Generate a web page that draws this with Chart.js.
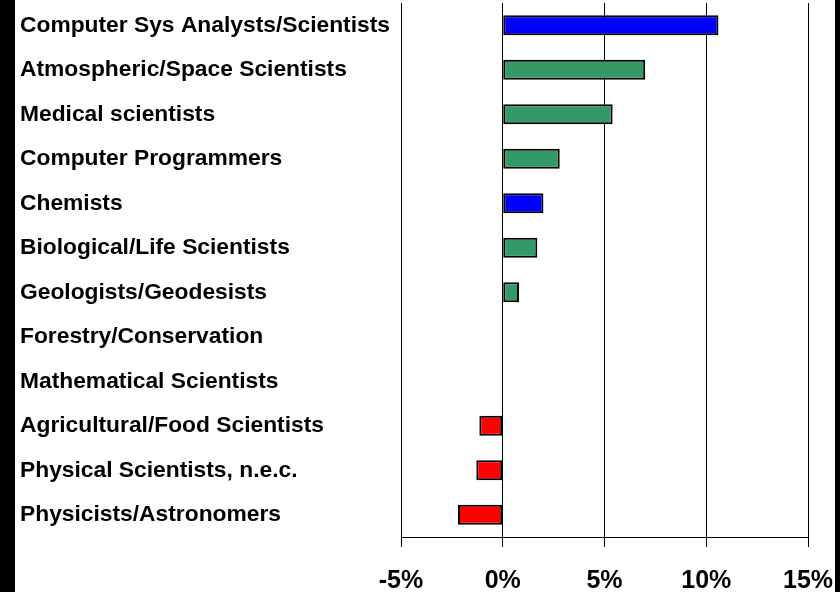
<!DOCTYPE html>
<html>
<head>
<meta charset="utf-8">
<script src="https://cdn.jsdelivr.net/npm/chart.js@4/dist/chart.umd.min.js"></script>
<style>
  html, body { margin: 0; padding: 0; background: #fff; }
  #wrap { position: relative; width: 840px; height: 592px; overflow: hidden; }
  #edgeL { position: absolute; left: 0; top: 0; width: 15px; height: 592px; background: #000; }
  #edgeR { position: absolute; right: 0; top: 0; width: 5px; height: 592px; background: #000; }
</style>
</head>
<body>
<div id="wrap">
  <canvas id="c"></canvas>
  <div id="edgeL"></div>
  <div id="edgeR"></div>
</div>
<script>
// Occupations and their % change
const categories = [
    "Computer Sys Analysts/Scientists",
    "Atmospheric/Space Scientists",
    "Medical scientists",
    "Computer Programmers",
    "Chemists",
    "Biological/Life Scientists",
    "Geologists/Geodesists",
    "Forestry/Conservation",
    "Mathematical Scientists",
    "Agricultural/Food Scientists",
    "Physical Scientists, n.e.c.",
    "Physicists/Astronomers"
];
const changes = [10.6, 7.0, 5.4, 2.8, 2.0, 1.7, 0.8, 0, 0, -1.15, -1.3, -2.2];
const tickValues = [-5, 0, 5, 10, 15];

const blue = "#0000ff", green = "#339966", red = "#ff0000";
const barColors = [blue, green, green, green, blue, green, green, green, green, red, red, red];

const font = "'Liberation Sans', Arial, sans-serif";

let bars = new Chart(
    document.querySelector("#c").getContext("2d"),
    {
        type: "bar",
        data: {
            labels: categories,
            datasets: [
                {
                    data: changes,
                    backgroundColor: barColors,
                    borderColor: "#000",
                    borderWidth: 2,
                    borderSkipped: false,
                    categoryPercentage: 1,
                    barPercentage: 0.45
                }
            ]
        },
        options: {
            indexAxis: "y",
            responsive: true,
            maintainAspectRatio: false,
            animation: false,
            layout: { padding: { left: 20, top: 3, right: 32, bottom: 0 } },
            plugins: {
                legend: { display: false },
                tooltip: { enabled: false }
            },
            scales: {
                x: {
                    min: -5,
                    max: 15,
                    afterBuildTicks: (s) => { s.ticks = tickValues.map(v => ({ value: v })); },
                    // fixed axis height, no extra room for edge labels
                    afterFit: (s) => { s.height = 55; s.paddingLeft = 0; s.paddingRight = 0; },
                    grid: { color: "#000", lineWidth: 1, tickLength: 10, drawTicks: true },
                    border: { color: "#000", width: 1 },
                    ticks: {
                        color: "#000",
                        padding: 19,
                        maxRotation: 0,
                        font: { family: font, size: 25, weight: "bold" },
                        callback: (v) => v + "%"
                    }
                },
                y: {
                    afterFit: (s) => { s.width = 381; s.paddingTop = 0; s.paddingBottom = 0; },
                    grid: { display: false },
                    border: { display: false },
                    ticks: {
                        color: "#000",
                        crossAlign: "far",
                        font: { family: font, size: 22.8, weight: "bold" }
                    }
                }
            }
        }
    }
)
</script>
</body>
</html>
